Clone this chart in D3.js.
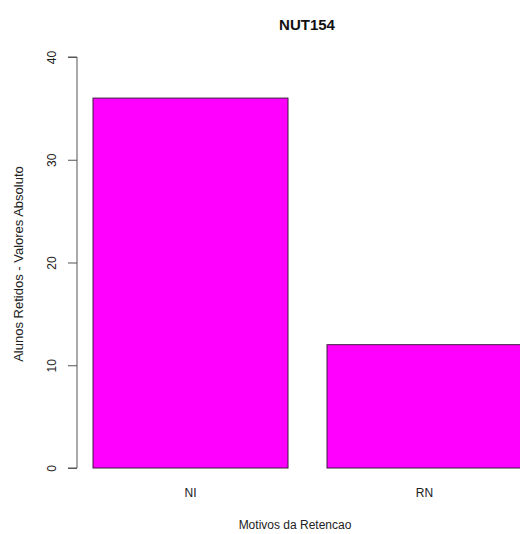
<!DOCTYPE html>
<html>
<head>
<meta charset="utf-8">
<script src="https://cdn.jsdelivr.net/npm/d3@7"></script>
<style>
  html, body { margin: 0; padding: 0; background: #fff; }
  svg { display: block; font-family: "Liberation Sans", Arial, Helvetica, sans-serif; }
</style>
</head>
<body>
<svg id="chart" width="520" height="534"></svg>
<script>
const categories = ["NI", "RN"];
const values = [36, 12];
const yTicks = [0, 10, 20, 30, 40];
const title = "NUT154";
const xTitle = "Motivos da Retencao";
const yTitle = "Alunos Retidos - Valores Absoluto";

const svg = d3.select("#chart");

// R barplot geometry: width 1, space 0.2
const x = d3.scaleLinear().domain([0.2, 1.2]).range([93, 288]);
const y = d3.scaleLinear().domain([0, 40]).range([468, 57]);

const bars = categories.map((c, i) => ({ c, v: values[i], x0: 0.2 + i * 1.2, x1: 1.2 + i * 1.2 }));

svg.append("g").selectAll("rect").data(bars).enter().append("rect")
  .attr("x", d => x(d.x0))
  .attr("y", d => y(d.v))
  .attr("width", d => x(d.x1) - x(d.x0))
  .attr("height", d => y(0) - y(d.v))
  .attr("fill", "#ff00ff")
  .attr("stroke", "#3a1a3a")
  .attr("stroke-width", 1);

// y axis
const yAxis = d3.axisLeft(y).tickValues(yTicks).tickSize(9).tickPadding(0).tickFormat(d3.format("d"));
const gy = svg.append("g").attr("transform", "translate(77,0)").call(yAxis);
gy.select(".domain").attr("stroke", "#555").attr("d", `M-9,${y(0)}H0V${y(40)}H-9`).attr("fill", "none");
gy.selectAll(".tick line").attr("stroke", "#555");
gy.selectAll(".tick text")
  .attr("x", 0).attr("dy", null)
  .attr("transform", "translate(-25,0) rotate(-90)")
  .attr("text-anchor", "middle")
  .attr("dominant-baseline", "central")
  .attr("font-size", 12)
  .attr("fill", "#222");

// x category labels
svg.append("g").selectAll("text").data(bars).enter().append("text")
  .attr("x", d => (x(d.x0) + x(d.x1)) / 2)
  .attr("y", 493)
  .attr("text-anchor", "middle")
  .attr("dominant-baseline", "central")
  .attr("font-size", 12)
  .attr("fill", "#222")
  .text(d => d.c);

// titles
svg.append("text")
  .attr("x", 307).attr("y", 24)
  .attr("text-anchor", "middle").attr("dominant-baseline", "central")
  .attr("font-size", 15).attr("font-weight", "bold").attr("fill", "#111")
  .text(title);

svg.append("text")
  .attr("x", 295).attr("y", 525)
  .attr("text-anchor", "middle").attr("dominant-baseline", "central")
  .attr("font-size", 12).attr("fill", "#222")
  .text(xTitle);

svg.append("text")
  .attr("transform", "translate(18,264) rotate(-90)")
  .attr("text-anchor", "middle").attr("dominant-baseline", "central")
  .attr("font-size", 13).attr("fill", "#222")
  .text(yTitle);
</script>
</body>
</html>
